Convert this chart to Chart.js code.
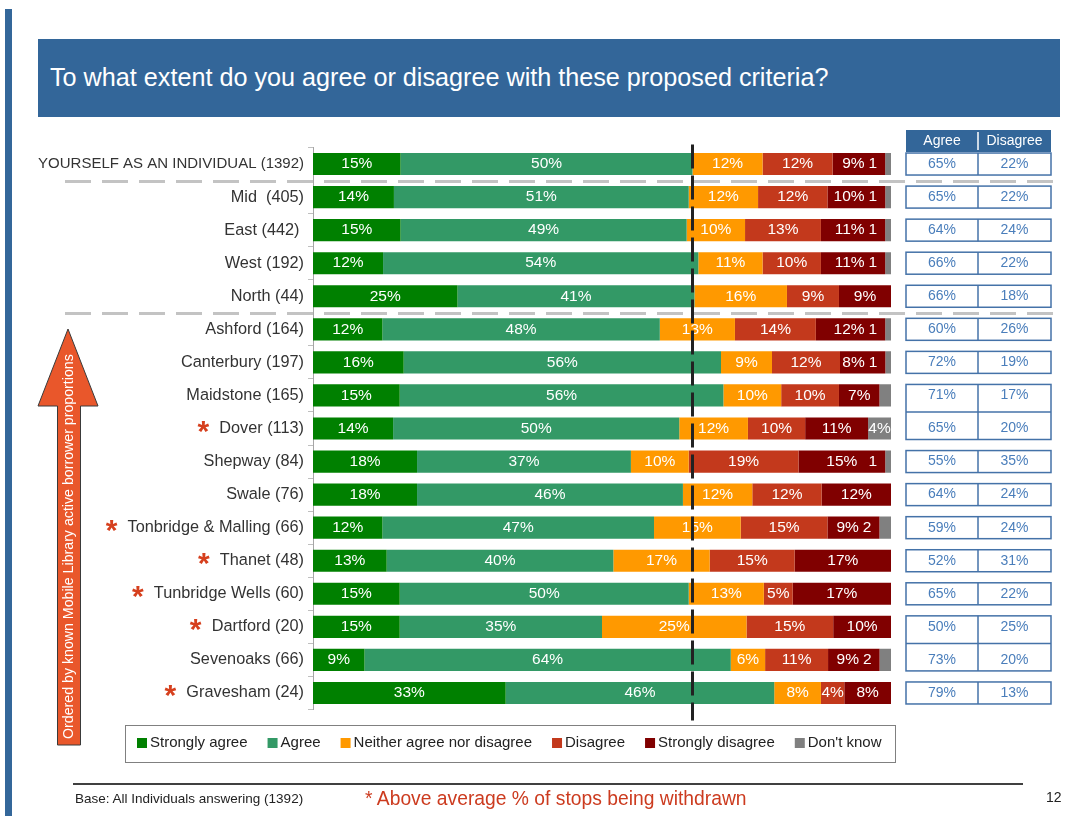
<!DOCTYPE html>
<html>
<head>
<meta charset="utf-8">
<title>Proposed criteria</title>
<script src="https://cdn.jsdelivr.net/npm/chart.js@4.4.1/dist/chart.umd.min.js"></script>
<style>
  html, body { margin: 0; padding: 0; background: #fff; }
  #page { position: relative; width: 1078px; height: 816px; overflow: hidden; font-family: 'Liberation Sans', Arial, sans-serif; }
  #chart { position: absolute; left: 0; top: 0; }
  .side-bar { position: absolute; left: 5px; top: 9px; width: 7px; height: 807px; background: #34679a; }
  .title { position: absolute; left: 38px; top: 39px; width: 1022px; height: 78px; background: #336699; color: #fff;
           font-size: 25.2px; line-height: 77px; padding-left: 12px; box-sizing: border-box; }
  .rule { position: absolute; left: 73px; top: 783px; width: 950px; height: 2px; background: #404040; }
  .base { position: absolute; left: 75px; top: 791px; font-size: 13.5px; color: #222; }
  .note { position: absolute; left: 365px; top: 788px; font-size: 19.3px; color: #cc3b1f; }
  .page-no { position: absolute; left: 1046px; top: 789px; font-size: 14px; color: #222; }
</style>
</head>
<body>
<div id="page">
  <div class="side-bar"></div>
  <div class="title">To what extent do you agree or disagree with these proposed criteria?</div>
  <canvas id="chart" width="1078" height="816"></canvas>
  <div class="rule"></div>
  <div class="base">Base: All Individuals answering (1392)</div>
  <div class="note">* Above average % of stops being withdrawn</div>
  <div class="page-no">12</div>
</div>
<script>
const categories = [
    'YOURSELF AS AN INDIVIDUAL (1392)', 'Mid  (405)', 'East (442) ', 'West (192)', 'North (44)',
    'Ashford (164)', 'Canterbury (197)', 'Maidstone (165)', 'Dover (113)', 'Shepway (84)', 'Swale (76)',
    'Tonbridge & Malling (66)', 'Thanet (48)', 'Tunbridge Wells (60)', 'Dartford (20)', 'Sevenoaks (66)', 'Gravesham (24)'
]
// districts with an above average share of stops being withdrawn
const aboveAverage = [false, false, false, false, false, false, false, false, true, false, false, true, true, true, true, false, true]

const stronglyAgree = [15, 14, 15, 12, 25, 12, 16, 15, 14, 18, 18, 12, 13, 15, 15, 9, 33]
const agree = [50, 51, 49, 54, 41, 48, 56, 56, 50, 37, 46, 47, 40, 50, 35, 64, 46]
const neither = [12, 12, 10, 11, 16, 13, 9, 10, 12, 10, 12, 15, 17, 13, 25, 6, 8]
const disagree = [12, 12, 13, 10, 9, 14, 12, 10, 10, 19, 12, 15, 15, 5, 15, 11, 4]
const stronglyDisagree = [9, 10, 11, 11, 9, 12, 8, 7, 11, 15, 12, 9, 17, 17, 10, 9, 8]
const dontKnow = [1, 1, 1, 1, 0, 1, 1, 2, 4, 1, 0, 2, 0, 0, 0, 2, 0]
const dontKnowLabels = ['1', '1', '1', '1', '', '1', '1', '', '4%', '1', '', '2', '', '', '', '2', '']

// net figures shown in the side table
const agreeTotal = [65, 65, 64, 66, 66, 60, 72, 71, 65, 55, 64, 59, 52, 65, 50, 73, 79]
const disagreeTotal = [22, 22, 24, 22, 18, 26, 19, 17, 20, 35, 24, 24, 31, 22, 25, 20, 13]
// rows whose table cells share one box
const tableGroups = [[0], [1], [2], [3], [4], [5], [6], [7, 8], [9], [10], [11], [12], [13], [14, 15], [16]]
// dashed separators drawn after these rows
const separatorsAfter = [0, 4]

const FONT = "'Liberation Sans', Arial, sans-serif"
const labelSize = i => (i === 0 ? 15 : 16.3)

const series = [
    {label: 'Strongly agree', values: stronglyAgree, color: '#008000'},
    {label: 'Agree', values: agree, color: '#339966'},
    {label: 'Neither agree nor disagree', values: neither, color: '#ff9900'},
    {label: 'Disagree', values: disagree, color: '#c3391c'},
    {label: 'Strongly disagree', values: stronglyDisagree, color: '#800000'},
    {label: "Don't know", values: dontKnow, color: '#808080'},
]

// 100% stacked: each row is scaled to its own total
const rowTotals = categories.map((_, i) => series.reduce((s, d) => s + d.values[i], 0))

const datasets = series.map(s => ({
    label: s.label,
    data: s.values.map((v, i) => v / rowTotals[i] * 100),
    raw: s.values,
    backgroundColor: s.color,
    borderWidth: 0,
    categoryPercentage: 1,
    barPercentage: 0.67,
}))

const extras = {
    id: 'extras',
    afterDatasetsDraw(chart) {
        const {ctx, chartArea} = chart
        const x = chart.scales.x
        const dkMeta = chart.getDatasetMeta(5)

        // values inside the segments
        ctx.save()
        ctx.font = `15.5px ${FONT}`
        ctx.fillStyle = '#fff'
        ctx.textBaseline = 'middle'
        chart.data.datasets.forEach((ds, di) => {
            const meta = chart.getDatasetMeta(di)
            meta.data.forEach((bar, i) => {
                const v = ds.raw[i]
                if (!v) return
                const left = Math.min(bar.x, bar.base)
                const right = Math.max(bar.x, bar.base)
                if (di === 5) {
                    const txt = dontKnowLabels[i]
                    if (!txt) return
                    if (v >= 3) {
                        ctx.textAlign = 'center'
                        ctx.fillText(txt, (left + right) / 2, bar.y)
                    } else {
                        ctx.textAlign = 'right'
                        ctx.fillText(txt, left - 8, bar.y)
                    }
                    return
                }
                const txt = v + '%'
                let cx = (left + right) / 2
                // small don't-know figures sit inside this segment, so make room
                if (di === 4 && dontKnowLabels[i] && dontKnow[i] < 3) {
                    const dk = dkMeta.data[i]
                    const dkTextLeft = Math.min(dk.x, dk.base) - 8 - ctx.measureText(dontKnowLabels[i]).width
                    cx = Math.min(cx, dkTextLeft - 4 - ctx.measureText(txt).width / 2)
                }
                ctx.textAlign = 'center'
                ctx.fillText(txt, cx, bar.y)
            })
        })
        ctx.restore()

        // reference line at the overall agree level
        const overall = (stronglyAgree[0] + agree[0]) / rowTotals[0] * 100
        const lx = Math.round(x.getPixelForValue(overall)) + 0.5
        ctx.save()
        ctx.strokeStyle = '#222'
        ctx.lineWidth = 3
        ctx.setLineDash([24, 7])
        ctx.beginPath()
        ctx.moveTo(lx, chartArea.top - 3)
        ctx.lineTo(lx, chartArea.bottom + 11)
        ctx.stroke()
        ctx.restore()
    },
    afterDraw(chart) {
        const {ctx} = chart
        const y = chart.scales.y

        // grey dashed separators between the groups of rows
        ctx.save()
        ctx.strokeStyle = '#c3c3c3'
        ctx.lineWidth = 3
        ctx.setLineDash([26, 11])
        separatorsAfter.forEach(r => {
            const sy = Math.round((y.getPixelForValue(r) + y.getPixelForValue(r + 1)) / 2) + 0.5
            ctx.beginPath()
            ctx.moveTo(65, sy)
            ctx.lineTo(1062, sy)
            ctx.stroke()
        })
        ctx.restore()

        // red asterisks in front of flagged districts
        ctx.save()
        const labelRight = y.right - 5 - 4
        categories.forEach((c, i) => {
            if (!aboveAverage[i]) return
            ctx.font = `${labelSize(i)}px ${FONT}`
            const w = ctx.measureText(c).width
            const cy = y.getPixelForValue(i)
            ctx.font = `bold 30px ${FONT}`
            ctx.fillStyle = '#d6401e'
            ctx.textAlign = 'center'
            ctx.textBaseline = 'alphabetic'
            ctx.fillText('*', labelRight - w - 16, cy + 12)
        })
        ctx.restore()

        // agree / disagree table
        const tl = 906, tm = 978, tr = 1051
        ctx.save()
        ctx.fillStyle = '#336699'
        ctx.fillRect(tl, 130, tr - tl, 22)
        ctx.strokeStyle = '#fff'
        ctx.lineWidth = 1.5
        ctx.beginPath()
        ctx.moveTo(tm, 132)
        ctx.lineTo(tm, 150)
        ctx.stroke()
        ctx.font = `14px ${FONT}`
        ctx.fillStyle = '#fff'
        ctx.textAlign = 'center'
        ctx.textBaseline = 'middle'
        ctx.fillText('Agree', (tl + tm) / 2, 141)
        ctx.fillText('Disagree', (tm + tr) / 2, 141)

        ctx.strokeStyle = '#4472a8'
        ctx.lineWidth = 1.5
        tableGroups.forEach(g => {
            const top = y.getPixelForValue(g[0]) - 11
            const bottom = y.getPixelForValue(g[g.length - 1]) + 11
            ctx.strokeRect(tl, top, tr - tl, bottom - top)
            ctx.beginPath()
            ctx.moveTo(tm, top)
            ctx.lineTo(tm, bottom)
            ctx.stroke()
            for (let k = 1; k < g.length; k++) {
                const my = (y.getPixelForValue(g[k - 1]) + y.getPixelForValue(g[k])) / 2
                ctx.beginPath()
                ctx.moveTo(tl, my)
                ctx.lineTo(tr, my)
                ctx.stroke()
            }
            g.forEach(i => {
                const cy = y.getPixelForValue(i)
                ctx.fillStyle = '#4a7ebb'
                ctx.fillText(agreeTotal[i] + '%', (tl + tm) / 2, cy)
                ctx.fillText(disagreeTotal[i] + '%', (tm + tr) / 2, cy)
            })
        })
        ctx.restore()

        // orange "ordered by" arrow
        ctx.save()
        ctx.beginPath()
        ctx.moveTo(68, 329)
        ctx.lineTo(98, 406)
        ctx.lineTo(80.5, 406)
        ctx.lineTo(80.5, 745)
        ctx.lineTo(57.5, 745)
        ctx.lineTo(57.5, 406)
        ctx.lineTo(38, 406)
        ctx.closePath()
        ctx.fillStyle = '#e9572b'
        ctx.fill()
        ctx.strokeStyle = '#3a3a3a'
        ctx.lineWidth = 1
        ctx.stroke()
        ctx.translate(69, 739)
        ctx.rotate(-Math.PI / 2)
        ctx.font = `14.2px ${FONT}`
        ctx.fillStyle = '#fff'
        ctx.textAlign = 'left'
        ctx.textBaseline = 'middle'
        ctx.fillText('Ordered by known Mobile Library active borrower proportions', 0, 0)
        ctx.restore()

        // legend
        ctx.save()
        ctx.strokeStyle = '#808080'
        ctx.lineWidth = 1
        ctx.strokeRect(125.5, 725.5, 770, 37)
        ctx.font = `15px ${FONT}`
        ctx.textBaseline = 'middle'
        ctx.textAlign = 'left'
        let lx = 137
        series.forEach(s => {
            ctx.fillStyle = s.color
            ctx.fillRect(lx, 738, 10, 10)
            ctx.fillStyle = '#222'
            ctx.fillText(s.label, lx + 13, 743)
            lx += 13 + ctx.measureText(s.label).width + 20
        })
        ctx.restore()
    }
}

document.addEventListener('DOMContentLoaded', function () {
    const chartContext = document.getElementById('chart').getContext('2d')

    new Chart(chartContext, {
        type: 'bar',
        data: {labels: categories, datasets},
        options: {
            indexAxis: 'y',
            responsive: false,
            animation: false,
            devicePixelRatio: 1,
            layout: {padding: {top: 147.5, bottom: 106.5, right: 187, left: 0}},
            scales: {
                x: {stacked: true, min: 0, max: 100, display: false},
                y: {
                    stacked: true,
                    afterFit: scale => { scale.width = 313 },
                    grid: {drawOnChartArea: false, drawTicks: true, tickLength: 5, color: '#bfbfbf', offset: true},
                    border: {display: true, color: '#a6a6a6'},
                    ticks: {
                        color: '#333',
                        padding: 4,
                        font: ctx => ({family: FONT, size: labelSize(ctx.index)})
                    }
                }
            },
            plugins: {
                legend: {display: false},
                tooltip: {enabled: false}
            }
        },
        plugins: [extras]
    })
})
</script>
</body>
</html>
